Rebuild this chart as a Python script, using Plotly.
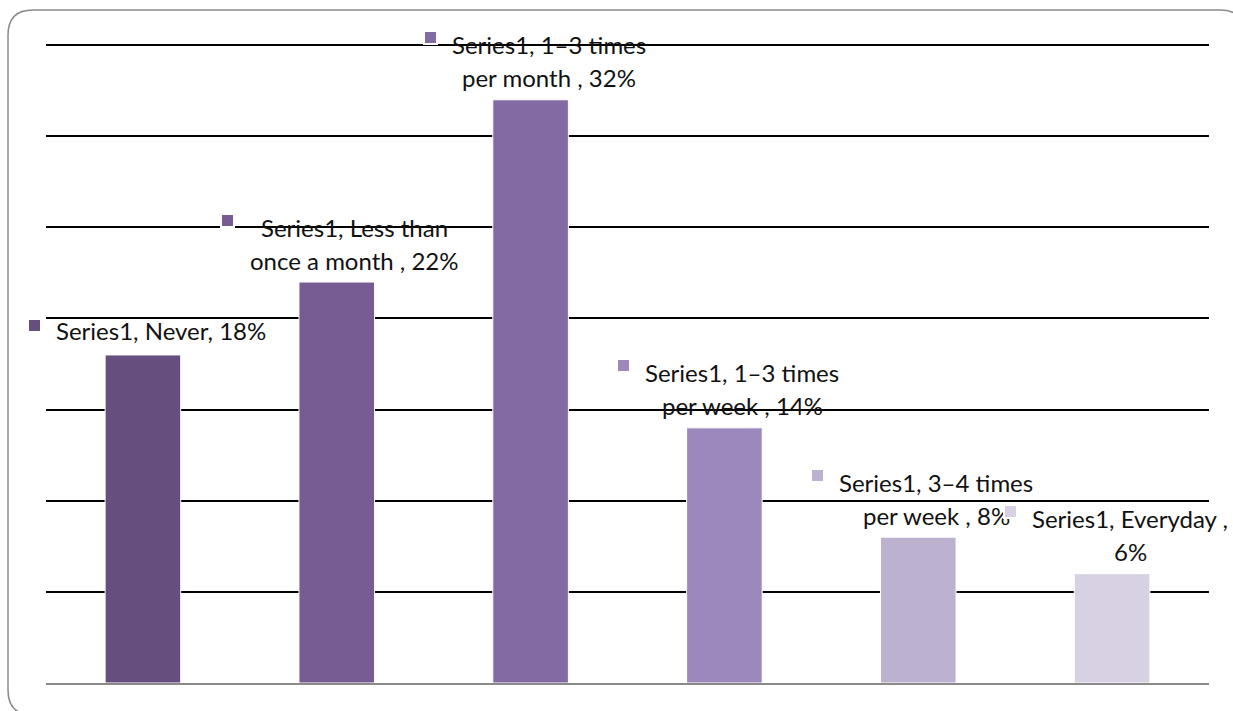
import plotly.graph_objects as go

# Survey responses: how often respondents do the activity
categories = ["Never", "Less than once a month ", "1–3 times per month ",
              "1–3 times per week ", "3–4 times per week ", "Everyday "]
values = [18, 22, 32, 14, 8, 6]
series_name = "Series1"
colors = ["#664F7E", "#775C94", "#836AA3", "#9D88BB", "#BCB1CE", "#D8D1E3"]

W, H = 1233, 711
M_L, M_R, M_T, M_B = 46, 24, 36, 28
Y_MAX = 35.5
FONT = "Lato"
FSIZE = 24

fig = go.Figure(go.Bar(
    x=categories, y=values,
    marker=dict(color=colors, line=dict(color="white", width=1)),
    width=0.39, hoverinfo="skip",
))

annotations = []
mark_offsets = [-108, -109, -100, -101, -101, -102]
for i, (cat, val) in enumerate(zip(categories, values)):
    full = f"{series_name}, {cat}, {val}%"
    parts = full.split(" ")
    lines = [" ".join(parts[:3]), " ".join(parts[3:])] if len(parts) > 3 else [full]
    if len(lines) == 2:
        shifts = [55, 22]
        mark_shift = 62
    else:
        shifts = [24]
        mark_shift = 29
    for line, ys in zip(lines, shifts):
        annotations.append(dict(
            x=cat, y=val, xref="x", yref="y", text=line, showarrow=False,
            xanchor="center", yanchor="middle", xshift=18, yshift=ys,
            font=dict(family=FONT, size=FSIZE, color="#111111"),
        ))
    annotations.append(dict(
        x=cat, y=val, xref="x", yref="y", text=" ", showarrow=False,
        xanchor="center", yanchor="middle", xshift=mark_offsets[i], yshift=mark_shift,
        width=11, height=11, bgcolor=colors[i], bordercolor="white",
        borderwidth=2, borderpad=0, font=dict(size=4),
    ))

# rounded frame around the chart, expressed in paper units
pw, ph = W - M_L - M_R, H - M_T - M_B
def px(x):
    return (x - M_L) / pw
def py(y):
    return (H - M_B - y) / ph
x0, y0, x1, y1, r = 8, 10, 1245, 715, 25
path = (f"M {px(x0 + r)},{py(y0)} L {px(x1 - r)},{py(y0)} "
        f"Q {px(x1)},{py(y0)} {px(x1)},{py(y0 + r)} L {px(x1)},{py(y1 - r)} "
        f"Q {px(x1)},{py(y1)} {px(x1 - r)},{py(y1)} L {px(x0 + r)},{py(y1)} "
        f"Q {px(x0)},{py(y1)} {px(x0)},{py(y1 - r)} L {px(x0)},{py(y0 + r)} "
        f"Q {px(x0)},{py(y0)} {px(x0 + r)},{py(y0)} Z")

fig.update_layout(
    width=W, height=H,
    margin=dict(l=M_L, r=M_R, t=M_T, b=M_B),
    paper_bgcolor="white", plot_bgcolor="white",
    showlegend=False,
    annotations=annotations,
    shapes=[dict(type="path", path=path, xref="paper", yref="paper",
                 line=dict(color="#8a8a8a", width=1.5), layer="below")],
    xaxis=dict(range=[-0.5, len(categories) - 0.5], showticklabels=False, ticks="",
               showgrid=False, zeroline=False,
               showline=True, linecolor="#8a8a8a", linewidth=2),
    yaxis=dict(range=[0, Y_MAX], dtick=5, showticklabels=False, ticks="",
               showgrid=True, gridcolor="#000000", gridwidth=2, zeroline=False),
)

fig.write_html("out.html")
